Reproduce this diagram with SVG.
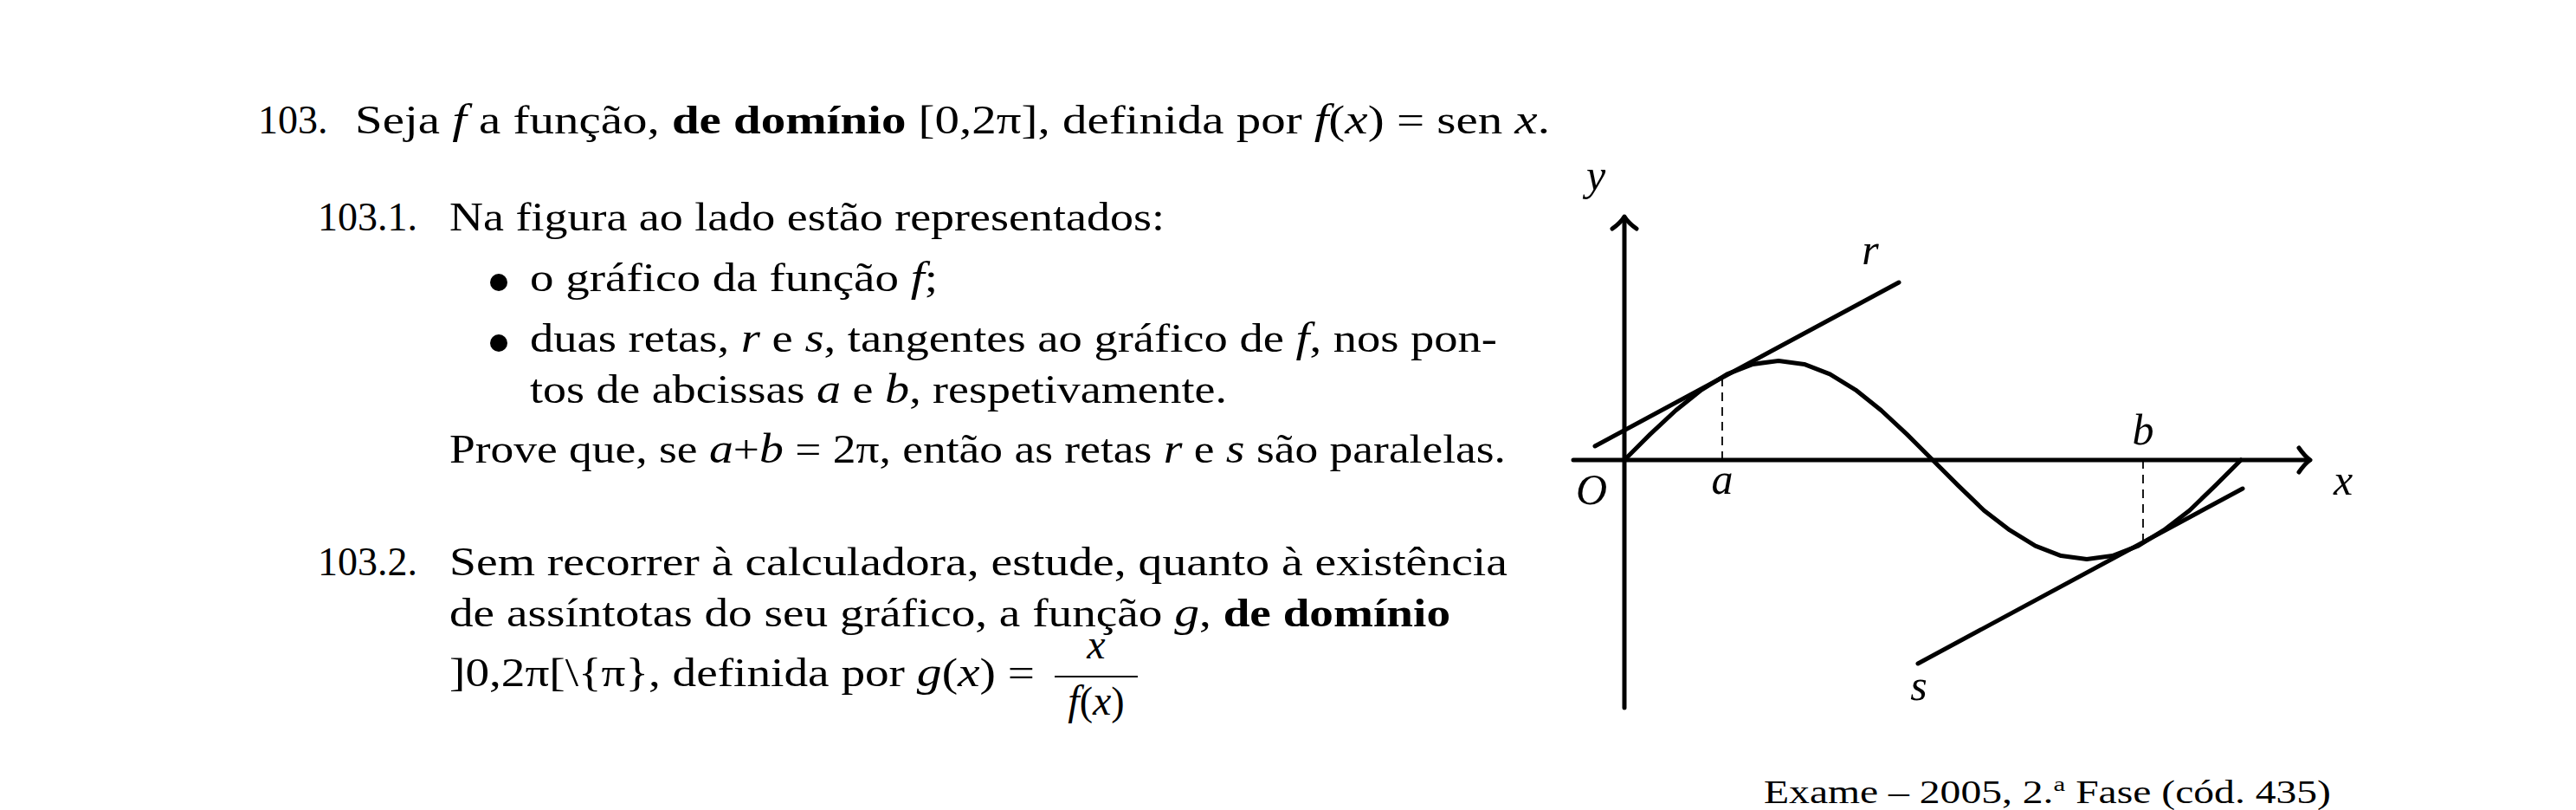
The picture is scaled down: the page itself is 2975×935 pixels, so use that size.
<svg xmlns="http://www.w3.org/2000/svg" width="2975" height="935" viewBox="0 0 2975 935">
<style>
  .t { font-family: "Liberation Serif", "Times New Roman", serif; font-size: 46px; fill: #000; }
  .i { font-style: italic; font-size: 48px; }
  .b { font-weight: bold; }
  .lbl { font-family: "Liberation Serif", "Times New Roman", serif; font-size: 50px; font-style: italic; fill: #000; text-anchor: middle; }
  .src { font-family: "Liberation Serif", "Times New Roman", serif; font-size: 37px; fill: #000; }
  .thick { fill: none; stroke: #000; stroke-width: 5; stroke-linecap: round; stroke-linejoin: round; }
  .dash { fill: none; stroke: #000; stroke-width: 1.8; stroke-dasharray: 10 7; }
</style>
<rect width="2975" height="935" fill="#fff"/>

<g id="exercise-text">
  <text class="t" x="298" y="154">103.</text>
  <text class="t" x="410" y="154" textLength="1380" lengthAdjust="spacingAndGlyphs">Seja <tspan class="i">f</tspan> a função, <tspan class="b">de domínio</tspan> [0,2π], definida por <tspan class="i">f</tspan>(<tspan class="i">x</tspan>) = sen <tspan class="i">x</tspan>.</text>

  <text class="t" x="367" y="266">103.1.</text>
  <text class="t" x="519" y="266" textLength="826" lengthAdjust="spacingAndGlyphs">Na figura ao lado estão representados:</text>

  <circle cx="576" cy="326" r="10" fill="#000"/>
  <text class="t" x="612" y="336" textLength="471" lengthAdjust="spacingAndGlyphs">o gráfico da função <tspan class="i">f</tspan>;</text>

  <circle cx="576" cy="396" r="10" fill="#000"/>
  <text class="t" x="612" y="406" textLength="1117" lengthAdjust="spacingAndGlyphs">duas retas, <tspan class="i">r</tspan> e <tspan class="i">s</tspan>, tangentes ao gráfico de <tspan class="i">f</tspan>, nos pon-</text>
  <text class="t" x="612" y="465" textLength="805" lengthAdjust="spacingAndGlyphs">tos de abcissas <tspan class="i">a</tspan> e <tspan class="i">b</tspan>, respetivamente.</text>

  <text class="t" x="519" y="534" textLength="1220" lengthAdjust="spacingAndGlyphs">Prove que, se <tspan class="i">a</tspan>+<tspan class="i">b</tspan> = 2π, então as retas <tspan class="i">r</tspan> e <tspan class="i">s</tspan> são paralelas.</text>

  <text class="t" x="367" y="664">103.2.</text>
  <text class="t" x="519" y="664" textLength="1222" lengthAdjust="spacingAndGlyphs">Sem recorrer à calculadora, estude, quanto à existência</text>
  <text class="t" x="519" y="723" textLength="1156" lengthAdjust="spacingAndGlyphs">de assíntotas do seu gráfico, a função <tspan class="i">g</tspan>, <tspan class="b">de domínio</tspan></text>
  <text class="t" x="519" y="792" textLength="676" lengthAdjust="spacingAndGlyphs">]0,2π[\{π}, definida por <tspan class="i">g</tspan>(<tspan class="i">x</tspan>) =</text>
  <text class="t i" x="1266" y="760" text-anchor="middle">x</text>
  <line x1="1218" y1="781" x2="1314" y2="781" stroke="#000" stroke-width="2"/>
  <text class="t" x="1266" y="825" text-anchor="middle"><tspan class="i">f</tspan>(<tspan class="i">x</tspan>)</text>
</g>

<g id="graph">
  <g id="axes">
    <line class="thick" x1="1876" y1="817" x2="1876" y2="252"/>
    <path class="thick" d="M1862,264 Q1872,257 1876,250 Q1880,257 1890,264"/>
    <line class="thick" x1="1817" y1="531" x2="2666" y2="531"/>
    <path class="thick" d="M2655,517 Q2662,527 2668,531 Q2662,535 2655,545"/>
  </g>
  <g id="curve-f">
    <polyline class="thick" points="1876,531 1905.67,501.37 1935.33,473.75 1965,450.04 1994.67,431.84 2024.33,420.4 2054,416.5 2083.67,420.4 2113.33,431.84 2143,450.04 2172.67,473.75 2202.33,501.37 2232,531 2261.67,560.63 2291.33,589.25 2321,611.96 2350.67,630.16 2380.33,641.6 2410,645.5 2439.67,641.6 2469.33,630.16 2499,611.96 2528.67,589.25 2558.33,560.63 2588,531"/>
  </g>
  <g id="tangents">
    <line id="line-r" class="thick" x1="1842" y1="515" x2="2193" y2="326"/>
    <line id="line-s" class="thick" x1="2215" y1="766" x2="2590" y2="564"/>
    <line class="dash" x1="1989" y1="531" x2="1989" y2="437"/>
    <line class="dash" x1="2475" y1="531" x2="2475" y2="625"/>
  </g>
  <g id="graph-labels">
    <text class="lbl" x="1843" y="219">y</text>
    <text class="lbl" x="2160" y="305">r</text>
    <text class="lbl" x="1838" y="582">O</text>
    <text class="lbl" x="1989" y="570">a</text>
    <text class="lbl" x="2475" y="513">b</text>
    <text class="lbl" x="2706" y="571">x</text>
    <text class="lbl" x="2216" y="808">s</text>
  </g>
</g>

<g id="source">
  <text class="src" x="2037" y="927" textLength="655" lengthAdjust="spacingAndGlyphs">Exame – 2005, 2.<tspan dy="-14" font-size="24">a</tspan><tspan dy="14"> Fase (cód. 435)</tspan></text>
</g>
</svg>
